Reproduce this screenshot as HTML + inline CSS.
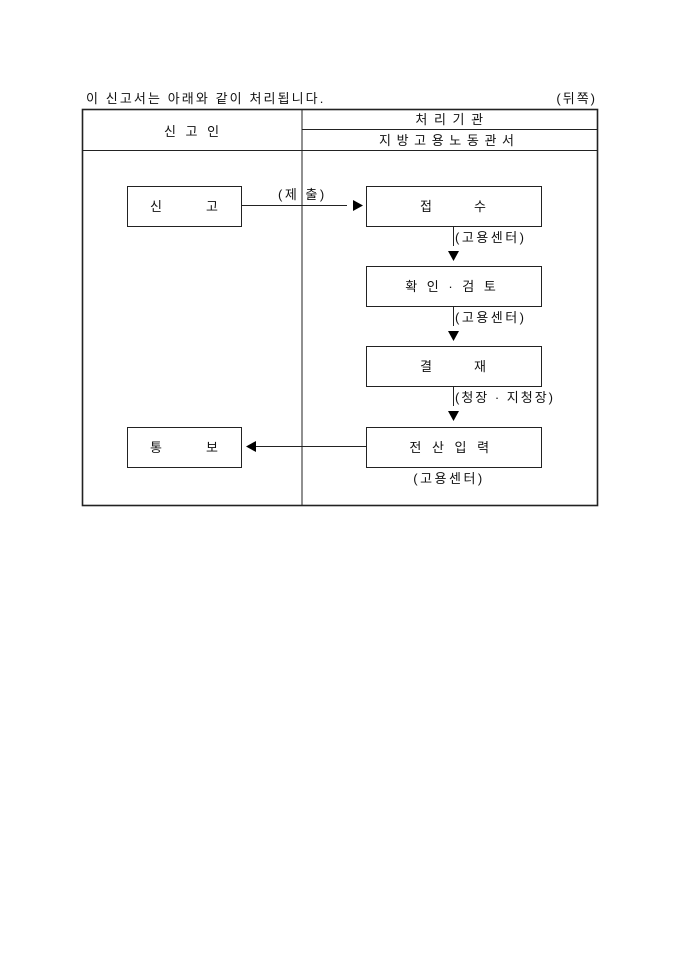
<!DOCTYPE html>
<html><head><meta charset="utf-8"><style>
html,body{margin:0;padding:0;background:#fff;}
svg{display:block;}
text{font-family:"Liberation Sans","Noto Sans CJK KR","NanumGothic",sans-serif;font-size:13px;fill:#111;}
</style></head><body>
<svg width="680" height="962" viewBox="0 0 680 962" xmlns="http://www.w3.org/2000/svg">
<rect width="680" height="962" fill="#fff"/>
<text x="86" y="103" letter-spacing="2.1">이 신고서는 아래와 같이 처리됩니다.</text>
<text x="597" y="103" text-anchor="end" letter-spacing="2">(뒤쪽)</text>
<g stroke="#222" fill="none">
<rect x="82.5" y="109.5" width="515" height="396" stroke-width="1.6"/>
<line x1="302" y1="110" x2="302" y2="505" stroke-width="1"/>
<line x1="302" y1="129.5" x2="597" y2="129.5" stroke-width="1"/>
<line x1="83" y1="150.5" x2="597" y2="150.5" stroke-width="1"/>
<rect x="127.5" y="186.5" width="114" height="40"/>
<rect x="366.5" y="186.5" width="175" height="40"/>
<rect x="366.5" y="266.5" width="175" height="40"/>
<rect x="366.5" y="346.5" width="175" height="40"/>
<rect x="366.5" y="427.5" width="175" height="40"/>
<rect x="127.5" y="427.5" width="114" height="40"/>
<line x1="242" y1="205.5" x2="347" y2="205.5"/>
<line x1="256" y1="446.5" x2="366" y2="446.5"/>
<line x1="453.5" y1="227" x2="453.5" y2="246"/>
<line x1="453.5" y1="307" x2="453.5" y2="326"/>
<line x1="453.5" y1="387" x2="453.5" y2="406"/>
</g>
<g fill="#000">
<polygon points="353,200 363,205.5 353,211"/>
<polygon points="256,441 246,446.5 256,452"/>
<polygon points="448,251 459,251 453.5,261"/>
<polygon points="448,331 459,331 453.5,341"/>
<polygon points="448,411 459,411 453.5,421"/>
</g>
<text x="193" y="136" text-anchor="middle" letter-spacing="3">신 고 인</text>
<text x="450" y="124" text-anchor="middle" letter-spacing="1.5">처 리 기 관</text>
<text x="447" y="145" text-anchor="middle" letter-spacing="1">지 방 고 용 노 동 관 서</text>
<text x="278" y="199" letter-spacing="2.5">(제 출)</text>
<text x="150" y="211">신</text><text x="206" y="211">고</text>
<text x="420" y="211">접</text><text x="474" y="211">수</text>
<text x="455" y="242" letter-spacing="2.5">(고용센터)</text>
<text x="452" y="291" text-anchor="middle" letter-spacing="3">확 인 · 검 토</text>
<text x="455" y="322" letter-spacing="2.5">(고용센터)</text>
<text x="420" y="371">결</text><text x="474" y="371">재</text>
<text x="455" y="402" letter-spacing="2">(청장 · 지청장)</text>
<text x="451" y="452" text-anchor="middle" letter-spacing="3.5">전 산 입 력</text>
<text x="449" y="483" text-anchor="middle" letter-spacing="2.5">(고용센터)</text>
<text x="150" y="452">통</text><text x="206" y="452">보</text>
</svg>
</body></html>
